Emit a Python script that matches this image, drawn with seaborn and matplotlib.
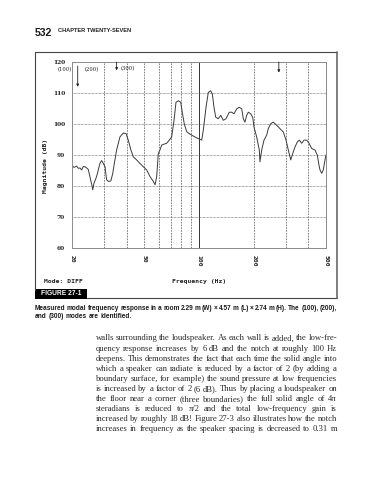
import matplotlib
matplotlib.use("Agg")
import matplotlib.pyplot as plt
import seaborn as sns
import numpy as np
from matplotlib.lines import Line2D
from matplotlib.patches import Rectangle

# ---------------- data ----------------
freq_hz = [20.1, 20.5, 21.2, 21.7, 22.1, 22.6, 23.1, 23.6, 24.1, 24.6, 25.1, 25.7, 26.0, 26.4,
           27.3, 28.0, 28.5, 29.1, 29.6, 30.4, 31.0, 31.7, 32.7, 33.5, 34.2, 35.2, 36.7, 38.3,
           39.7, 40.8, 42.2, 43.5, 45.4, 47.3, 49.4, 51.5, 53.8, 56.0, 57.3, 58.5, 59.3, 59.7,
           61.0, 62.3, 64.2, 66.4, 68.6, 70.7, 72.8, 74.7, 76.9, 79.3, 80.9, 83.0, 85.6, 88.4,
           91.2, 95.1, 99.1, 103.5, 105.6, 109.3, 112.5, 116.0, 118.4, 120.9, 123.6, 127.7,
           131.7, 136.1, 140.8, 146.8, 151.3, 155.8, 161.3, 166.6, 171.8, 175.3, 179.1, 183.0,
           186.8, 192.5, 197.5, 200.8, 207.7, 214.7, 216.6, 221.3, 227.9, 235.8, 240.6, 248.0,
           256.3, 267.6, 279.0, 291.1, 301.3, 310.2, 319.8, 328.0, 337.7, 347.6, 356.5, 367.5,
           378.4, 391.6, 403.1, 417.2, 435.1, 447.7, 459.2, 463.4, 473.4, 483.1, 493.7, 500.0]
magnitude_db = [86.5, 86.0, 86.4, 85.7, 85.8, 85.2, 86.3, 86.2, 85.8, 85.3, 83.0, 80.4, 78.8, 80.8,
                83.0, 85.5, 87.3, 88.2, 87.5, 86.2, 82.0, 81.5, 81.6, 84.0, 87.3, 91.6, 95.8, 97.1,
                96.9, 94.8, 91.6, 89.4, 88.4, 87.3, 86.2, 85.2, 83.0, 81.5, 80.4, 83.0, 88.0, 90.5,
                91.6, 93.2, 93.5, 93.8, 94.8, 95.8, 101.0, 107.0, 107.5, 107.0, 103.8, 100.0, 97.5, 96.9,
                96.4, 95.8, 95.3, 94.8, 98.0, 105.4, 110.2, 110.7, 109.7, 105.4, 102.2, 101.7,
                102.8, 101.2, 101.7, 103.8, 103.8, 103.3, 104.9, 105.4, 104.9, 101.7, 100.6, 102.8,
                103.8, 103.3, 102.2, 99.0, 95.8, 91.6, 87.8, 91.6, 94.8, 96.4, 98.5, 100.1,
                100.6, 99.6, 98.5, 97.4, 94.8, 91.6, 88.4, 90.5, 92.6, 94.2, 94.8, 93.8,
                94.8, 94.8, 93.8, 92.1, 91.6, 90.0, 86.2, 85.2, 84.1, 85.2, 88.4, 90.0]

x_ticks = [20, 50, 100, 200, 500]
x_tick_labels = ["20", "50", "100", "200", "500"]
y_ticks = [60, 70, 80, 90, 100, 110, 120]
minor_grid_hz = [30, 40, 50, 60, 70, 80, 90, 200, 300, 400]

mode_labels = ["(100)", "(200)", "(300)"]
mode_label_hz = [18.2, 25.6, 40.4]
mode_label_db = [117.7, 117.6, 118.0]
arrow_hz = [21.5, 35.2, 275.0]
arrow_top_db = [118.7, 120.0, 120.0]
arrow_tip_db = [112.0, 117.3, 116.6]

header_page = "532"
header_chapter = "CHAPTER TWENTY-SEVEN"
figure_tag = "FIGURE 27-1"
caption_lines = [
    "Measured modal frequency response in a room 2.29 m (W) \u00d7 4.57 m (L) \u00d7 2.74 m (H). The (100), (200),",
    "and (300) modes are identified.",
]
body_lines = [
    "walls surrounding the loudspeaker. As each wall is added, the low-fre-",
    "quency response increases by 6 dB and the notch at roughly 100 Hz",
    "deepens. This demonstrates the fact that each time the solid angle into",
    "which a speaker can radiate is reduced by a factor of 2 (by adding a",
    "boundary surface, for example) the sound pressure at low frequencies",
    "is increased by a factor of 2 (6 dB). Thus by placing a loudspeaker on",
    "the floor near a corner (three boundaries) the full solid angle of 4\u03c0",
    "steradians is reduced to \u03c0/2 and the total low-frequency gain is",
    "increased by roughly 18 dB! Figure 27-3 also illustrates how the notch",
    "increases in frequency as the speaker spacing is decreased to 0.31 m",
]

# ---------------- figure ----------------
sns.set_theme(style="white")
plt.rcParams['font.family'] = ['DejaVu Sans']
W, H = 383, 480
fig = plt.figure(figsize=(W / 100, H / 100), dpi=100)
fig.patch.set_facecolor("white")


def fx(x):
    return x / W


def fy(y):
    return 1 - y / H


ax = fig.add_axes([fx(72), fy(248), (326 - 72) / W, (248 - 62) / H])
ax.set_facecolor("white")
sns.lineplot(x=freq_hz, y=magnitude_db, ax=ax, color="#3a3a3a", lw=0.7)
ax.set_xscale("log")
ax.set_xlim(20, 500)
ax.set_ylim(60, 120)

for f in minor_grid_hz:
    ax.axvline(f, color="#555555", lw=0.5, ls=(0, (2.5, 1.5)), zorder=0)
ax.axvline(100, color="#333333", lw=0.7, zorder=0)
for yv in y_ticks[1:-1]:
    ax.axhline(yv, color="#555555", lw=0.5, ls=(0, (1, 1)), zorder=0)

for s in ax.spines.values():
    s.set_color("#8a8a8a")
    s.set_linewidth(0.7)
ax.spines["left"].set_linestyle((0, (2, 1)))

ax.set_xticks(x_ticks)
ax.set_xticklabels(x_tick_labels, rotation=-90, family="DejaVu Sans Mono",
                   fontsize=4.6, fontweight="bold", color="#222222")
ax.xaxis.set_minor_locator(matplotlib.ticker.NullLocator())
ax.set_yticks(y_ticks)
ax.set_yticklabels([str(v) for v in y_ticks], family="DejaVu Serif",
                   fontsize=4.2, fontweight="bold", color="#222222")
ax.tick_params(axis="x", length=0, pad=5)
ax.tick_params(axis="y", length=0, pad=5)
ax.set_xlabel("")
ax.set_ylabel("")

for lab, lx, ly in zip(mode_labels, mode_label_hz, mode_label_db):
    ax.text(lx, ly, lab, family="DejaVu Serif", fontsize=3.8, color="#222222",
            ha="center", va="center", clip_on=False)
for axz, top, tip in zip(arrow_hz, arrow_top_db, arrow_tip_db):
    ax.annotate("", xy=(axz, tip), xytext=(axz, top),
                arrowprops=dict(arrowstyle="-|>", color="#222222", lw=0.6,
                                mutation_scale=3.5, shrinkA=0, shrinkB=0),
                annotation_clip=False)

# axis labels of the instrument plot
fig.text(fx(46), fy(166), "Magnitude (dB)", rotation=90, family="DejaVu Sans Mono",
         fontsize=4.6, fontweight="bold", ha="center", va="center", color="#222222")
fig.text(fx(44), fy(281.5), "Mode: DIFF", family="DejaVu Sans Mono", fontsize=4.6,
         fontweight="bold", ha="left", va="center", color="#222222")
fig.text(fx(199.5), fy(282), "Frequency (Hz)", family="DejaVu Sans Mono", fontsize=4.6,
         fontweight="bold", ha="center", va="center", color="#222222")

# frame around the figure
frame_col = "#444444"
fig.add_artist(Line2D([fx(35), fx(337)], [fy(52), fy(52)], color=frame_col, lw=0.8))
fig.add_artist(Line2D([fx(35), fx(35)], [fy(52), fy(290)], color=frame_col, lw=0.8))
fig.add_artist(Line2D([fx(87), fx(337)], [fy(298), fy(298)], color=frame_col, lw=0.8))
fig.add_artist(Line2D([fx(337), fx(337)], [fy(52), fy(298)], color="#6a6a6a", lw=1.2))
fig.add_artist(Rectangle((fx(35), fy(298.5)), (87 - 35) / W, 9.5 / H,
                         transform=fig.transFigure, color="black", lw=0))
fig.text(fx(61), fy(293.8), figure_tag, family="Liberation Sans", fontsize=4.8,
         fontweight="bold", color="white", ha="center", va="center")

# header
fig.text(fx(35), fy(32.5), header_page, family="Liberation Sans", fontsize=7.6,
         fontweight="bold", ha="left", va="center", color="#1a1a1a")
fig.text(fx(58), fy(30.5), header_chapter, family="Liberation Sans", fontsize=4.1,
         fontweight="bold", ha="left", va="center", color="#222222")

renderer = fig.canvas.get_renderer()


def put_line(text, x0, x1, y, justify, **kw):
    words = text.split(" ")
    objs = [fig.text(0, 0, w, ha="left", va="baseline", **kw) for w in words]
    widths = [o.get_window_extent(renderer).width for o in objs]
    size_px = kw["fontsize"] * 100 / 72
    gap = size_px * 0.27
    if justify and len(words) > 1:
        g = (x1 - x0 - sum(widths)) / (len(words) - 1)
        if g > 0:
            gap = g
    x = x0
    for o, w in zip(objs, widths):
        o.set_position((fx(x), fy(y)))
        x += w + gap


cap_kw = dict(family="Liberation Sans", fontsize=4.7, fontweight="bold", color="#1a1a1a")
put_line(caption_lines[0], 35, 337, 309.5, True, **cap_kw)
put_line(caption_lines[1], 35, 337, 317.5, False, **cap_kw)

body_kw = dict(family="Liberation Serif", fontsize=6.25, color="#2a2a2a")
for i, line in enumerate(body_lines):
    put_line(line, 95.5, 337, 340.5 + i * 10.1, True, **body_kw)

fig.savefig("out.png", dpi=100, facecolor="white")
